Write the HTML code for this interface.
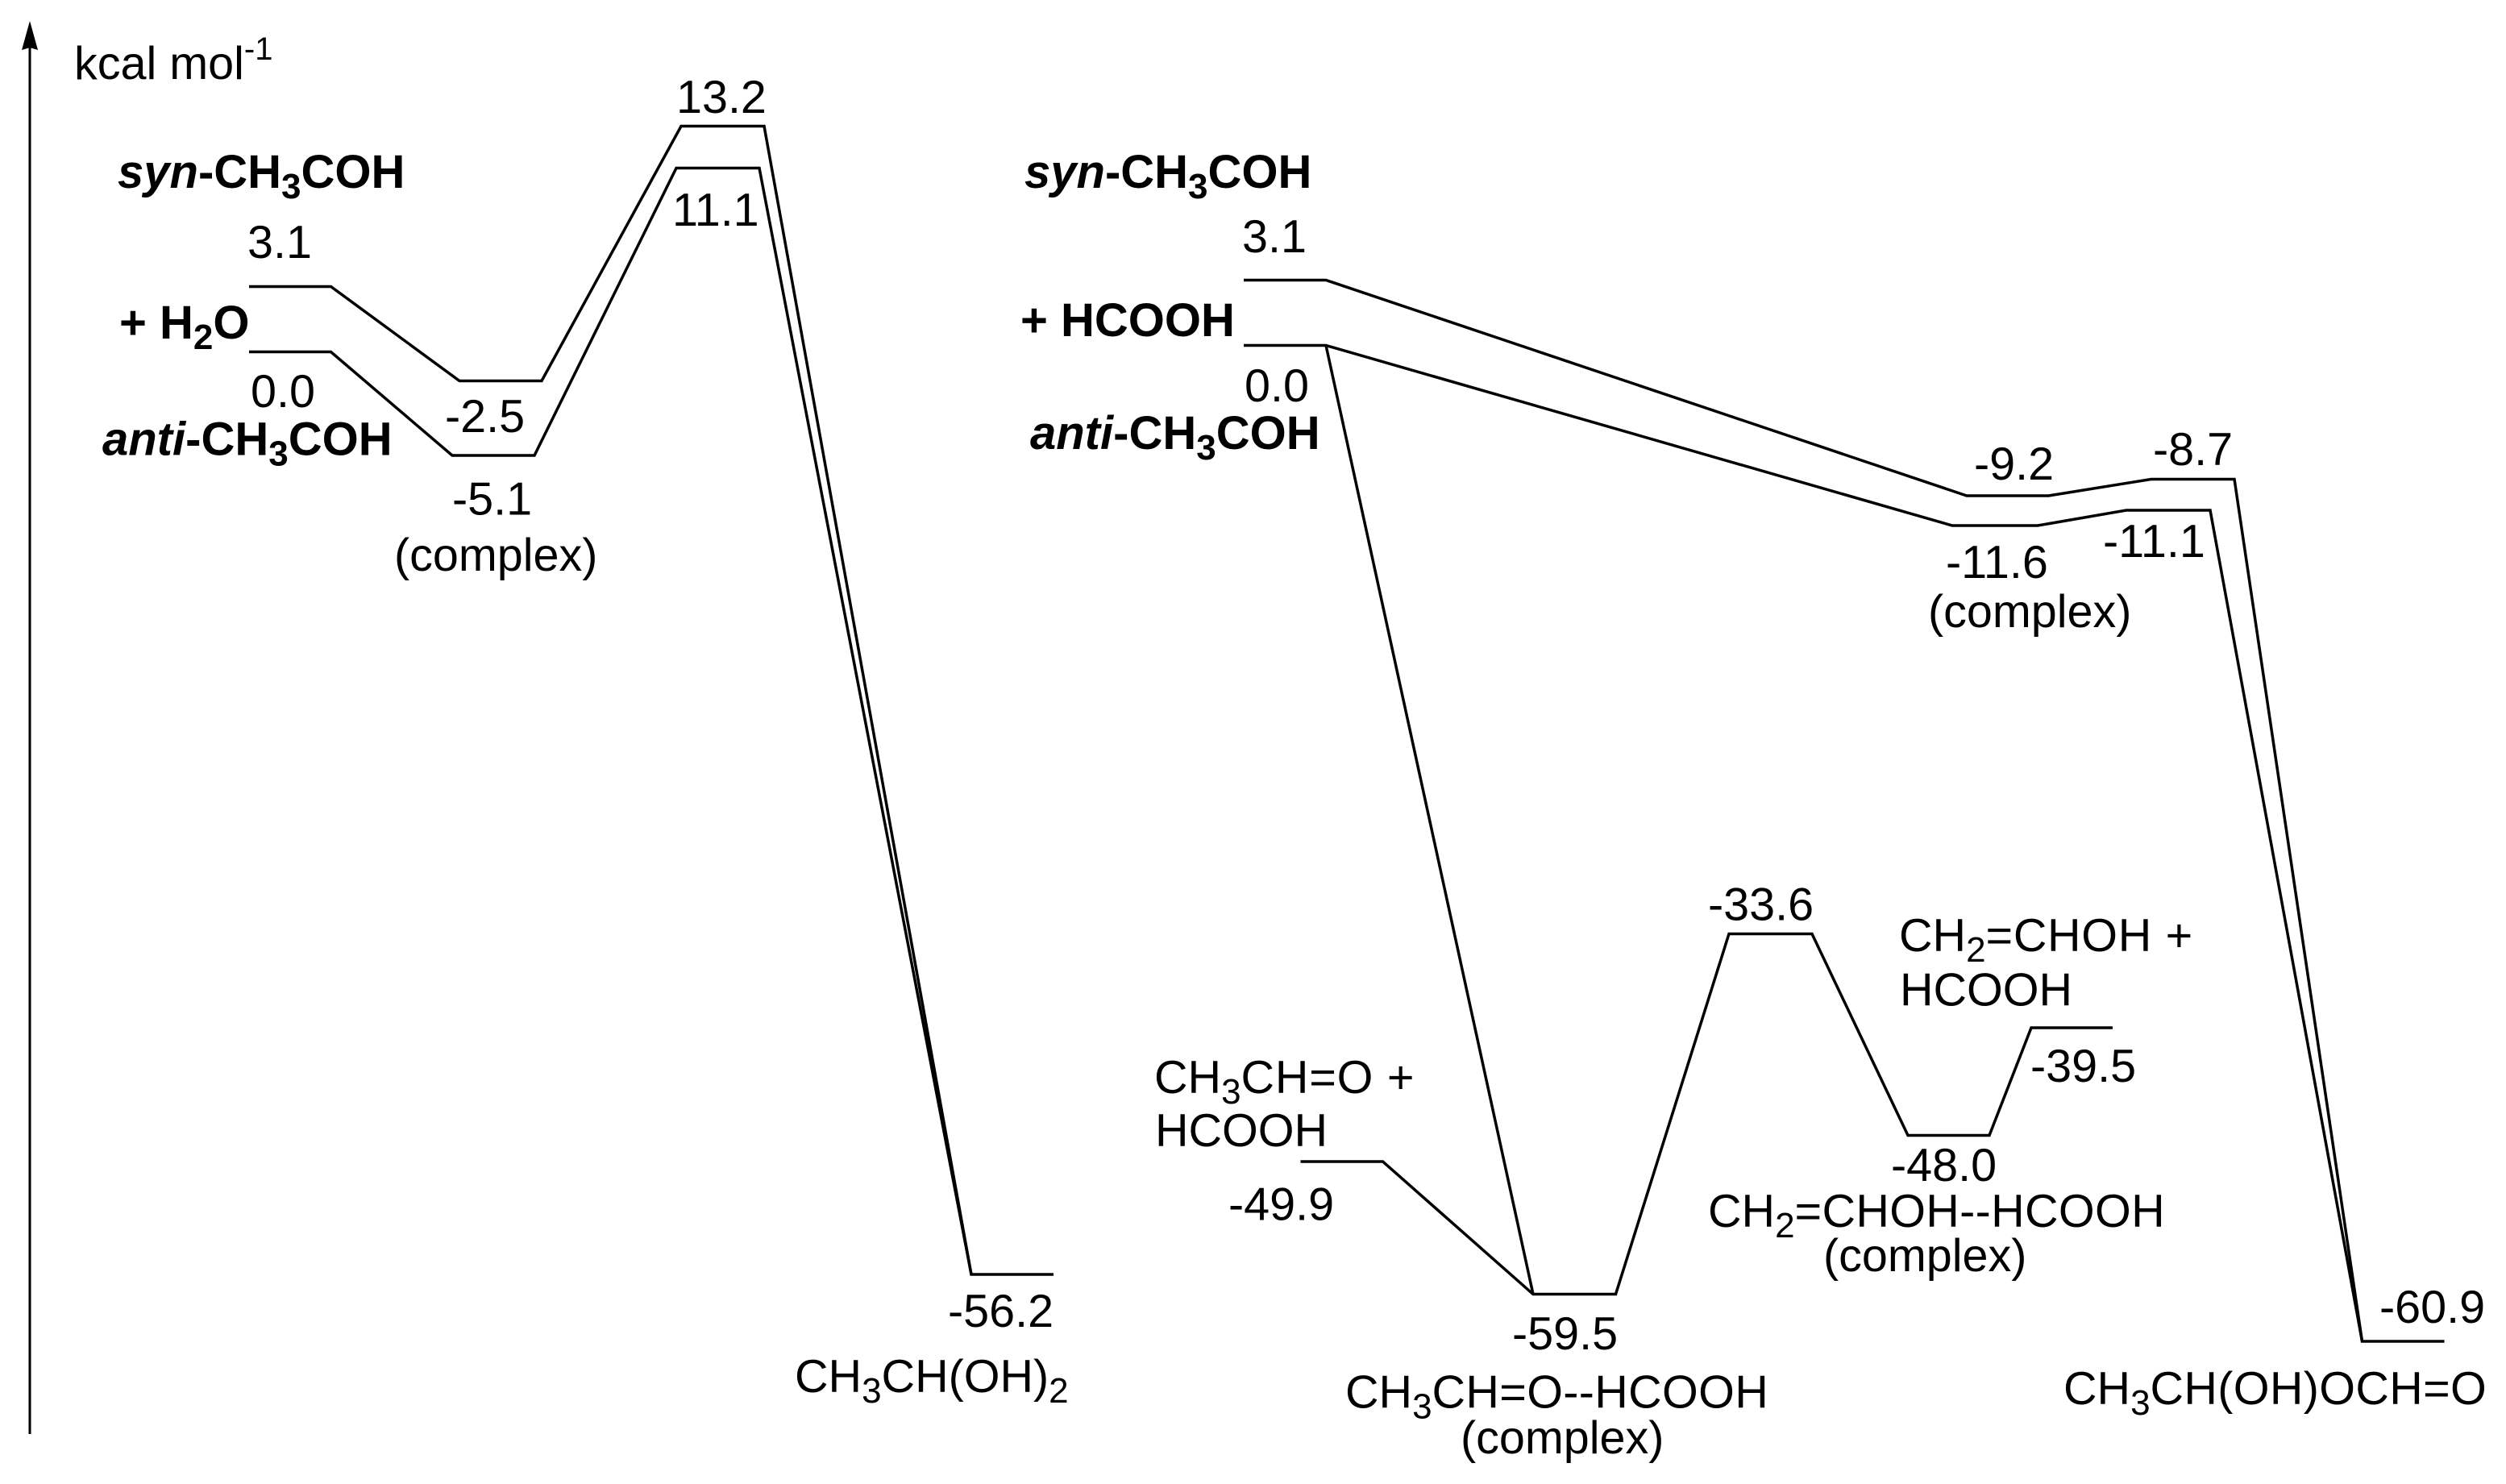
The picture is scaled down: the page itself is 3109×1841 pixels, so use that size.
<!DOCTYPE html>
<html>
<head>
<meta charset="utf-8">
<style>
html,body{margin:0;padding:0;background:#fff;}
svg{display:block;}
text{font-family:"Liberation Sans",Arial,sans-serif;font-size:57.5px;fill:#000;}
.b{font-weight:bold;font-size:58px;}
.i{font-style:italic;}
.s{font-size:44px;}
.l{fill:none;stroke:#000;stroke-width:3.5;stroke-linejoin:miter;}
</style>
</head>
<body>
<svg width="3109" height="1841" viewBox="0 0 3109 1841" xmlns="http://www.w3.org/2000/svg">
<rect width="3109" height="1841" fill="#fff"/>

<!-- axis -->
<line x1="37" y1="50" x2="37" y2="1779" stroke="#000" stroke-width="3"/>
<polygon points="37,26 47,62 37,59 27,62" fill="#000"/>

<!-- left profiles -->
<polyline class="l" points="309,355.5 410.5,355.5 570,472.5 672,472.5 845,156.5 948,156.5 1205,1581 1307,1581"/>
<polyline class="l" points="309,436.5 410.5,436.5 561,565 663,565 839,208.5 942,208.5 1205,1581"/>

<!-- right profiles -->
<polyline class="l" points="1543,347.5 1645,347.5 2440,615 2541.5,615 2669,594.5 2772,594.5 2930.5,1664 3032.5,1664"/>
<polyline class="l" points="1543,428.5 1645,428.5 2422,652 2528,652 2638,633 2742,633 2930.5,1664"/>
<polyline class="l" points="1645,428.5 1902,1605.5"/>
<polyline class="l" points="1613.5,1441 1715.5,1441 1902,1605.5 2004.5,1605.5 2145,1158.5 2248,1158.5 2367,1408.5 2468,1408.5 2520,1275 2621,1275"/>

<!-- left labels -->
<text x="92" y="98">kcal mol<tspan style="font-size:40px" dy="-24">-1</tspan></text>
<text x="839" y="140">13.2</text>
<text x="146" y="233" class="b"><tspan class="i">syn</tspan>-CH<tspan class="s" dy="13">3</tspan><tspan dy="-13">COH</tspan></text>
<text x="834" y="280">11.1</text>
<text x="307" y="320">3.1</text>
<text x="148" y="420" class="b">+ H<tspan class="s" dy="13">2</tspan><tspan dy="-13">O</tspan></text>
<text x="311" y="505">0.0</text>
<text x="552" y="536">-2.5</text>
<text x="127" y="564.5" class="b"><tspan class="i">anti</tspan>-CH<tspan class="s" dy="13">3</tspan><tspan dy="-13">COH</tspan></text>
<text x="561" y="638.5">-5.1</text>
<text x="489" y="708">(complex)</text>
<text x="1176" y="1646">-56.2</text>
<text x="986" y="1727">CH<tspan class="s" dy="13">3</tspan><tspan dy="-13">CH(OH)</tspan><tspan class="s" dy="13">2</tspan></text>

<!-- right labels -->
<text x="1271" y="233" class="b"><tspan class="i">syn</tspan>-CH<tspan class="s" dy="13">3</tspan><tspan dy="-13">COH</tspan></text>
<text x="1541" y="313">3.1</text>
<text x="1266" y="417" class="b">+ HCOOH</text>
<text x="1544" y="498">0.0</text>
<text x="1278" y="557" class="b"><tspan class="i">anti</tspan>-CH<tspan class="s" dy="13">3</tspan><tspan dy="-13">COH</tspan></text>
<text x="2449" y="595">-9.2</text>
<text x="2671" y="577">-8.7</text>
<text x="2609" y="691">-11.1</text>
<text x="2414" y="717">-11.6</text>
<text x="2392" y="778">(complex)</text>
<text x="2119" y="1141.5">-33.6</text>
<text x="2356" y="1180">CH<tspan class="s" dy="13">2</tspan><tspan dy="-13" style="letter-spacing:.7px">=CHOH +</tspan></text>
<text x="2357" y="1247.5">HCOOH</text>
<text x="2519" y="1342">-39.5</text>
<text x="1432" y="1356">CH<tspan class="s" dy="13">3</tspan><tspan dy="-13" style="letter-spacing:.8px">CH=O +</tspan></text>
<text x="1433" y="1422">HCOOH</text>
<text x="2346" y="1465">-48.0</text>
<text x="1524" y="1513.5">-49.9</text>
<text x="2119" y="1522">CH<tspan class="s" dy="13">2</tspan><tspan dy="-13" style="letter-spacing:.35px">=CHOH--HCOOH</tspan></text>
<text x="2262" y="1577">(complex)</text>
<text x="2952" y="1641">-60.9</text>
<text x="1876" y="1674">-59.5</text>
<text x="2560" y="1742">CH<tspan class="s" dy="13">3</tspan><tspan dy="-13" style="letter-spacing:.35px">CH(OH)OCH=O</tspan></text>
<text x="1669" y="1746.5">CH<tspan class="s" dy="13">3</tspan><tspan dy="-13" style="letter-spacing:.35px">CH=O--HCOOH</tspan></text>
<text x="1812" y="1803">(complex)</text>
</svg>
</body>
</html>
